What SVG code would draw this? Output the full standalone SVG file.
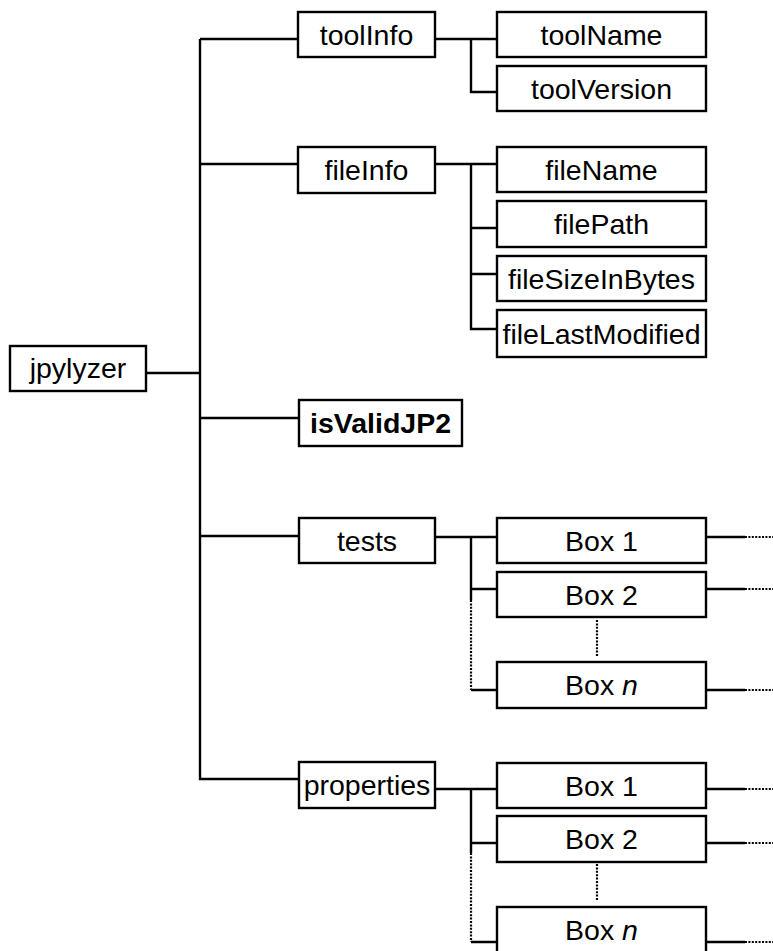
<svg xmlns="http://www.w3.org/2000/svg" width="773" height="951" viewBox="0 0 773 951">
<style>
.box{fill:#fff;stroke:#000;stroke-width:2.4}
.t{font-family:"Liberation Sans",Arial,sans-serif;font-size:28.5px;fill:#000;text-anchor:middle}
.b{font-weight:bold}
.ln{fill:none;stroke:#000;stroke-width:2.4}
.dot{fill:none;stroke:#000;stroke-width:2.2;stroke-dasharray:2 1.4}
</style>
<rect width="773" height="951" fill="#fff"/>
<g id="connectors">
<path class="ln" d="M200,39 V779 H299 M146,373 H200 M200,39 H298 M200,164 H298 M200,418 H299 M200,536 H299"/>
<path class="ln" d="M435,39 H497 M471,39 V92 H497"/>
<path class="ln" d="M435,164 H497 M471,164 V329 H497 M471,228 H497 M471,274 H497"/>
<path class="ln" d="M435,537 H497 M471,537 V600 M471,589 H497 M471,690 H497"/>
<path class="dot" d="M471,600 V690"/>
<path class="dot" d="M597,620 V656"/>
<path class="ln" d="M706,537 H745 M706,589 H745 M706,690 H745"/>
<path class="dot" d="M745,537 H773 M745,589 H773 M745,690 H773"/>
<path class="ln" d="M435,789 H497 M471,789 V853 M471,843 H497 M471,942 H497"/>
<path class="dot" d="M471,853 V942"/>
<path class="dot" d="M597,864 V900"/>
<path class="ln" d="M706,789 H745 M706,843 H745 M706,942 H745"/>
<path class="dot" d="M745,789 H773 M745,843 H773 M745,942 H773"/>
</g>
<g id="jpylyzer"><rect class="box" x="10" y="346" width="136" height="45"/><text class="t" x="78" y="378">jpylyzer</text></g>
<g id="toolInfo"><rect class="box" x="298" y="12" width="137" height="45"/><text class="t" x="366.5" y="45">toolInfo</text></g>
<g id="fileInfo"><rect class="box" x="298" y="147" width="137" height="46"/><text class="t" x="366.5" y="180">fileInfo</text></g>
<g id="isValidJP2"><rect class="box" x="299" y="400" width="163" height="46"/><text class="t b" x="380.5" y="433">isValidJP2</text></g>
<g id="tests"><rect class="box" x="299" y="518" width="136" height="45"/><text class="t" x="367" y="551">tests</text></g>
<g id="properties"><rect class="box" x="299" y="762" width="136" height="46"/><text class="t" x="367" y="795">properties</text></g>
<g id="toolName"><rect class="box" x="497" y="12" width="209" height="45"/><text class="t" x="601.5" y="45">toolName</text></g>
<g id="toolVersion"><rect class="box" x="497" y="66" width="209" height="45"/><text class="t" x="601.5" y="99">toolVersion</text></g>
<g id="fileName"><rect class="box" x="497" y="147" width="209" height="45"/><text class="t" x="601.5" y="180">fileName</text></g>
<g id="filePath"><rect class="box" x="497" y="201" width="209" height="46"/><text class="t" x="601.5" y="234">filePath</text></g>
<g id="fileSizeInBytes"><rect class="box" x="497" y="256" width="209" height="45"/><text class="t" x="601.5" y="289">fileSizeInBytes</text></g>
<g id="fileLastModified"><rect class="box" x="497" y="310" width="209" height="47"/><text class="t" x="601.5" y="344">fileLastModified</text></g>
<g id="testsBox1"><rect class="box" x="497" y="518" width="209" height="45"/><text class="t" x="601.5" y="551">Box 1</text></g>
<g id="testsBox2"><rect class="box" x="497" y="572" width="209" height="45"/><text class="t" x="601.5" y="605">Box 2</text></g>
<g id="testsBoxN"><rect class="box" x="497" y="662" width="209" height="46"/><text class="t" x="601.5" y="695">Box <tspan font-style="italic">n</tspan></text></g>
<g id="propsBox1"><rect class="box" x="497" y="763" width="209" height="45"/><text class="t" x="601.5" y="796">Box 1</text></g>
<g id="propsBox2"><rect class="box" x="497" y="816" width="209" height="46"/><text class="t" x="601.5" y="849">Box 2</text></g>
<g id="propsBoxN"><rect class="box" x="497" y="907" width="209" height="50"/><text class="t" x="601.5" y="940">Box <tspan font-style="italic">n</tspan></text></g>
</svg>
